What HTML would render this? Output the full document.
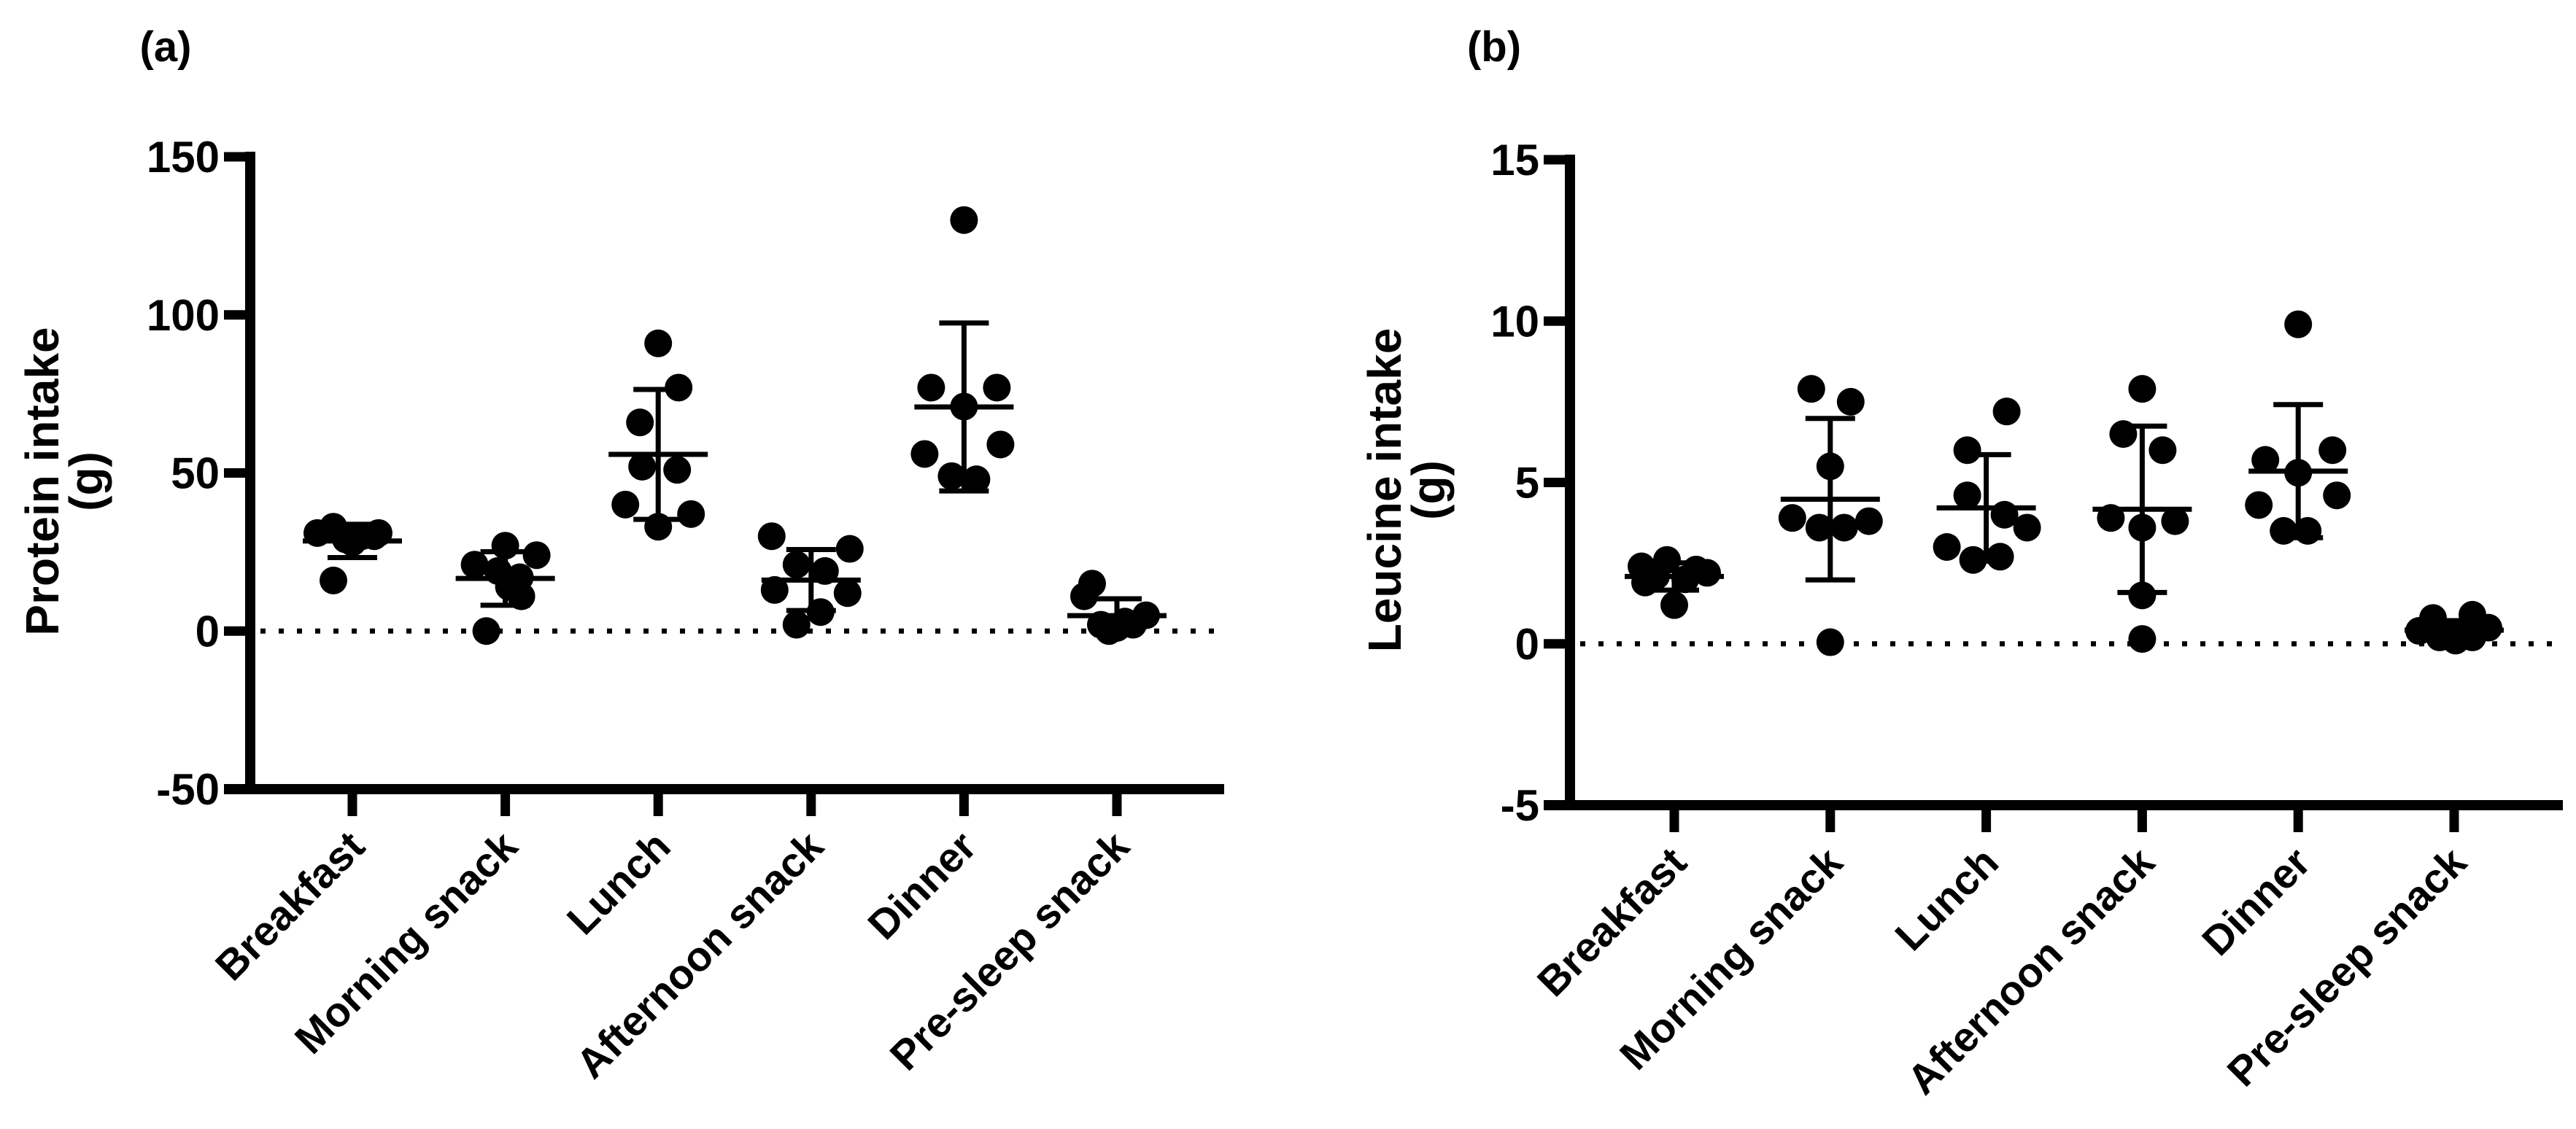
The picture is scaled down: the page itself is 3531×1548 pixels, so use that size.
<!DOCTYPE html>
<html><head><meta charset="utf-8"><style>
body{margin:0;background:#fff}
svg{display:block}
text{font-family:"Liberation Sans",sans-serif;font-weight:bold;fill:#000}
</style></head><body>
<svg id="chart" width="3531" height="1548" viewBox="0 0 3531 1548"></svg>
<script>
const categories = ["Breakfast","Morning snack","Lunch","Afternoon snack","Dinner","Pre-sleep snack"];
const proteinValues = [
  [16,33,31,30,29,31,30,28],
  [0,11,17,21,24,27,19,14],
  [91,77,66,52,51,40,37,33],
  [30,26,21,19,13,12,6,2],
  [130,77,77,71,56,59,49,48],
  [15,11,5,3,2,1,2,0]
];
const leucineValues = [
  [1.2,2.4,2.6,2.3,2.2,2.1,2.0,1.9],
  [7.9,7.5,5.5,3.9,3.6,3.6,3.8,0.05],
  [7.2,6.0,4.6,4.0,3.6,3.0,2.6,2.7],
  [7.9,6.5,6.0,3.9,3.6,3.8,1.5,0.15],
  [9.9,5.7,6.0,5.3,4.3,4.6,3.5,3.5],
  [0.8,0.9,0.4,0.5,0.2,0.1,0.2,0.3]
];
const proteinTicks = [150,100,50,0,-50];
const leucineTicks = [15,10,5,0,-5];
// jitter offsets (px) for dot spread within each category
const jitterA = [
  [-26,-26,36,13,-9,-48,30,0],
  [-26,22,20,-42,43,0,-10,5],
  [0,28,-25,-22,26,-45,45,0],
  [-54,53,-20,19,-50,50,13,-20],
  [0,-45,45,0,-54,50,-17,17],
  [-34,-45,40,11,-22,0,22,-11]
];
const jitterB = [
  [0,-45,-10,30,45,-25,15,-40],
  [-26,28,0,-52,-15,19,53,0],
  [28,-26,-26,25,56,-54,-18,19],
  [0,-26,28,-43,0,45,0,0],
  [0,-45,47,0,-54,53,-20,13],
  [-29,25,-48,47,-20,2,25,0]
];

const svg = document.getElementById('chart');
const NS = 'http://www.w3.org/2000/svg';
function mk(tag, attrs, parent){
  const e = document.createElementNS(NS, tag);
  for (const k in attrs) e.setAttribute(k, attrs[k]);
  (parent||svg).appendChild(e);
  return e;
}

function panel(cfg){
  const g = mk('g', {});
  
  
  const y = v => cfg.y0 - (v - cfg.vmin) * cfg.py;
  const x = i => cfg.x0 + i * cfg.dx;
  const top = y(cfg.vmax), bot = y(cfg.vmin);
  const pl = mk('text', {x: cfg.lx, y: 84, 'font-size': 58, 'text-anchor': 'middle'}, g);
  pl.textContent = cfg.label;
  
  
  const ya = mk('line', {x1: cfg.ax, y1: top - 7, x2: cfg.ax, y2: bot + 7, stroke: '#000', 'stroke-width': 14}, g);
  
  
  const xa = mk('line', {x1: cfg.ax - 36, y1: bot, x2: cfg.xend, y2: bot, stroke: '#000', 'stroke-width': 14}, g);
  
  
  cfg.ticks.forEach(t => {
    const tk = mk('line', {x1: cfg.ax - 36, y1: y(t), x2: cfg.ax, y2: y(t), stroke: '#000', 'stroke-width': 13}, g);
    
    
    const tl = mk('text', {x: cfg.ax - 42, y: y(t) + 21, 'font-size': 60, 'text-anchor': 'end'}, g);
    tl.textContent = t;
    
    
  });
  const zl = mk('line', {x1: cfg.ax + 14, y1: y(0), x2: cfg.xend, y2: y(0), stroke: '#000', 'stroke-width': 7, 'stroke-dasharray': '7 18'}, g);
  
  
  const yt = mk('text', {transform: `translate(${cfg.tx},${cfg.ty}) rotate(-90)`, 'font-size': 64, 'text-anchor': 'middle'}, g);
  
  
  const t1 = mk('tspan', {x: 0, y: 0}, yt); t1.textContent = cfg.title;
  const t2 = mk('tspan', {x: 0, dy: 60}, yt); t2.textContent = '(g)';
  categories.forEach((c, i) => {
    const tk = mk('line', {x1: x(i), y1: bot, x2: x(i), y2: bot + 37, stroke: '#000', 'stroke-width': 13}, g);
    
    
    const cl = mk('text', {transform: `translate(${x(i) + 20},${bot + 82}) rotate(-45)`, 'font-size': 57, 'text-anchor': 'end'}, g);
    cl.textContent = c;
    
    
    const vals = cfg.values[i];
    vals.forEach((v, j) => {
      const d = mk('circle', {cx: x(i) + cfg.jit[i][j], cy: y(v), r: 19, fill: '#000'}, g);
      
      
    });
    const n = vals.length;
    const mean = vals.reduce((a, b) => a + b, 0) / n;
    const sd = Math.sqrt(vals.reduce((a, b) => a + (b - mean) ** 2, 0) / (n - 1));
    const eb = mk('g', {}, g);
    
    
    mk('line', {x1: x(i) - 68, y1: y(mean), x2: x(i) + 68, y2: y(mean), stroke: '#000', 'stroke-width': 7}, eb);
    mk('line', {x1: x(i), y1: y(mean + sd), x2: x(i), y2: y(mean - sd), stroke: '#000', 'stroke-width': 7}, eb);
    mk('line', {x1: x(i) - 34, y1: y(mean + sd), x2: x(i) + 34, y2: y(mean + sd), stroke: '#000', 'stroke-width': 7}, eb);
    mk('line', {x1: x(i) - 34, y1: y(mean - sd), x2: x(i) + 34, y2: y(mean - sd), stroke: '#000', 'stroke-width': 7}, eb);
  });
}

panel({name: 'panel-a-protein', label: '(a)', lx: 227, ax: 343, xend: 1678, x0: 483, dx: 209.6,
  y0: 1082, vmin: -50, vmax: 150, py: 4.335, ticks: proteinTicks, values: proteinValues, jit: jitterA,
  title: 'Protein intake', tx: 80, ty: 660});
panel({name: 'panel-b-leucine', label: '(b)', lx: 2048, ax: 2152, xend: 3513, x0: 2295, dx: 213.8,
  y0: 1104, vmin: -5, vmax: 15, py: 44.25, ticks: leucineTicks, values: leucineValues, jit: jitterB,
  title: 'Leucine intake', tx: 1920, ty: 672});
</script>
</body></html>
